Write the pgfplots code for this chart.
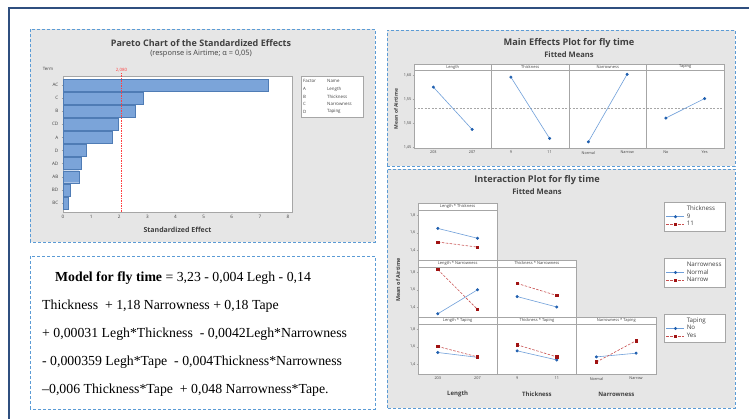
\documentclass[border=0pt]{standalone}
\usepackage{pgfplots}
\pgfplotsset{compat=1.18}
\usepackage{fontspec}
\setmainfont{Open Sans}
\newfontfamily\tnr{Liberation Serif}
\definecolor{frameblue}{HTML}{2F4F7F}
\definecolor{dashblue}{HTML}{5B9BD5}
\definecolor{panelgray}{HTML}{E6E6E6}
\definecolor{barfill}{HTML}{7BA4D9}
\definecolor{baredge}{HTML}{4F7CB5}
\definecolor{mblue}{HTML}{1F5FAF}
\definecolor{lblue}{HTML}{6F9FDA}
\definecolor{mred}{HTML}{A01212}
\definecolor{lred}{HTML}{C85050}
\definecolor{axgray}{HTML}{A6A6A6}
\definecolor{txtgray}{HTML}{404040}
\newcommand{\fs}[1]{\fontsize{#1}{#1}\selectfont}
\pgfplotsset{
  mini/.style={scale only axis, anchor=south west, axis line style={axgray, line width=0.5pt},
    tick style={axgray, line width=0.4pt}, major tick length=1.5pt, tick align=outside,
    tick label style={font=\fs{3.8}, text=txtgray}, clip=false, xtick pos=bottom, ytick pos=left,
    yticklabel style={inner sep=1pt}, xticklabel style={inner sep=1.5pt},
    axis background/.style={fill=white}},
  meff/.style={mini, width=77.5pt, height=78pt, xmin=-0.5, xmax=1.5, ymin=1.448, ymax=1.612,
    xtick={0,1}, ytick={1.45,1.5,1.55,1.6}, yticklabels={{1,45},{1,50},{1,55},{1,60}}},
  ieff/.style={mini, width=79.3pt, height=50pt, xmin=-0.5, xmax=1.5, ymin=1.29, ymax=1.86,
    xtick={0,1}, ytick={1.4,1.6,1.8}, yticklabels={{1,4},{1,6},{1,8}}},
  mline/.style={lblue, line width=0.6pt, mark=*, mark size=1.2pt, mark options={fill=mblue, draw=mblue}},
  bser/.style={lblue, line width=0.6pt, mark=*, mark size=1.2pt, mark options={fill=mblue, draw=mblue, solid}},
  rser/.style={lred, line width=0.6pt, dash pattern=on 2.5pt off 1.5pt, mark=square*, mark size=1.2pt, mark options={fill=mred, draw=mred, solid}},
  meanline/.style={gray!70, line width=0.4pt, dash pattern=on 2pt off 1.5pt, mark=none},
  ileg/.style={legend style={at={(3.102,#1)}, anchor=north west, draw=axgray, fill=white,
      font=\fs{6.2}, text=txtgray, row sep=-2.2pt, inner xsep=2pt, inner ysep=1.5pt, cells={anchor=west},
      text width=34pt},
    legend cell align=left,
    legend image code/.code={\draw[mark repeat=2, mark phase=2, ##1] plot coordinates {(0pt,0pt) (9pt,0pt) (18pt,0pt)};}},
}
\begin{document}
\begin{tikzpicture}
\path[use as bounding box] (0pt,0pt) rectangle (749pt,419pt);
% outer frame
\draw[frameblue, line width=2pt] (749pt,411pt) -- (9pt,411pt) -- (9pt,0pt);
% panels
\draw[dashblue, line width=0.8pt, dash pattern=on 3pt off 2pt, fill=panelgray] (30pt,177pt) rectangle (375pt,390pt);
\draw[dashblue, line width=0.8pt, dash pattern=on 3pt off 2pt, fill=white] (30pt,10pt) rectangle (375pt,163pt);
\draw[dashblue, line width=0.8pt, dash pattern=on 3pt off 2pt, fill=panelgray] (387pt,253pt) rectangle (735pt,389pt);
\draw[dashblue, line width=0.8pt, dash pattern=on 3pt off 2pt, fill=panelgray] (387pt,11pt) rectangle (735pt,250pt);

% ---------- Pareto ----------
\node[font=\fs{9}\bfseries, text=txtgray] at (201pt,376pt) {Pareto Chart of the Standardized Effects};
\node[font=\fs{7.4}, text=txtgray] at (201pt,365pt) {(response is Airtime; α = 0,05)};
\node[font=\fs{4.4}, text=txtgray] at (48pt,350pt) {Term};
\begin{axis}[mini, at={(63pt,207pt)}, width=229pt, height=136pt,
  xmin=0, xmax=8.14, ymin=-0.69, ymax=9.69,
  xtick={0,1,2,3,4,5,6,7,8}, xticklabels={0,1,2,3,4,5,6,7,8},
  ytick={0,1,2,3,4,5,6,7,8,9}, yticklabels={BC,BD,AB,AD,D,A,CD,B,C,AC},
  tick label style={font=\fs{4.6}}, yticklabel style={xshift=-2pt}]
\addplot[xbar, bar width=12pt, fill=barfill, draw=baredge, line width=0.4pt] coordinates
  {(7.31,9) (2.85,8) (2.58,7) (1.96,6) (1.76,5) (0.83,4) (0.65,3) (0.56,2) (0.27,1) (0.20,0)};
\addplot[red!75, line width=0.6pt, dash pattern=on 1.5pt off 1pt, mark=none] coordinates {(2.08,-0.69) (2.08,9.95)};
\node[font=\fs{4.4}, text=red!75, anchor=south, inner sep=0.5pt] at (axis cs:2.08,9.95) {2,080};
\end{axis}
\node[font=\fs{7}\bfseries, text=txtgray] at (177.5pt,189pt) {Standardized Effect};
\draw[axgray, fill=white, line width=0.4pt] (301pt,302pt) rectangle (363pt,343pt);
\begin{scope}[every node/.style={font=\fs{4.4}, text=txtgray, anchor=west, inner sep=0pt}]
\node at (303pt,337.7pt) {Factor}; \node at (327pt,337.7pt) {Name};
\node at (303pt,330pt) {A}; \node at (327pt,330pt) {Length};
\node at (303pt,322.5pt) {B}; \node at (327pt,322.5pt) {Thickness};
\node at (303pt,315pt) {C}; \node at (327pt,315pt) {Narrowness};
\node at (303pt,307.5pt) {D}; \node at (327pt,307.5pt) {Taping};
\end{scope}

% ---------- Model text ----------
\begin{scope}[every node/.style={font=\tnr\fs{13.8}, anchor=base west, inner sep=0pt}]
\node at (55pt,137pt) {\textbf{Model for fly time} = 3,23 - 0,004 Legh - 0,14};
\node at (42pt,109pt) {Thickness\ \ + 1,18 Narrowness + 0,18 Tape};
\node at (42pt,81pt) {+ 0,00031 Legh*Thickness\ \ - 0,0042Legh*Narrowness};
\node at (42pt,53pt) {- 0,000359 Legh*Tape\ \ - 0,004Thickness*Narrowness};
\node at (42pt,25pt) {–0,006 Thickness*Tape\ \ + 0,048 Narrowness*Tape.};
\end{scope}

% ---------- Main effects ----------
\node[font=\fs{9.2}\bfseries, text=txtgray] at (569pt,376pt) {Main Effects Plot for fly time};
\node[font=\fs{7.6}\bfseries, text=txtgray] at (569pt,364pt) {Fitted Means};
\node[font=\fs{5}\bfseries, text=txtgray, rotate=90] at (396pt,310pt) {Mean of Airtime};
\begin{axis}[meff, at={(414pt,271pt)}, xticklabels={203,207}]
\addplot[meanline] coordinates {(-0.5,1.532) (1.5,1.532)};
\addplot[mline] coordinates {(0,1.576) (1,1.487)};
\end{axis}
\begin{axis}[meff, at={(491.5pt,271pt)}, xticklabels={9,11}, ytick=\empty]
\addplot[meanline] coordinates {(-0.5,1.532) (1.5,1.532)};
\addplot[mline] coordinates {(0,1.597) (1,1.468)};
\end{axis}
\begin{axis}[meff, at={(569pt,271pt)}, xticklabels={Normal,Narrow}, ytick=\empty]
\addplot[meanline] coordinates {(-0.5,1.532) (1.5,1.532)};
\addplot[mline] coordinates {(0,1.461) (1,1.603)};
\end{axis}
\begin{axis}[meff, at={(646.5pt,271pt)}, xticklabels={No,Yes}, ytick=\empty]
\addplot[meanline] coordinates {(-0.5,1.532) (1.5,1.532)};
\addplot[mline] coordinates {(0,1.511) (1,1.552)};
\end{axis}
\begin{scope}[every node/.style={font=\fs{4}, text=txtgray}]
\draw[axgray, fill=white, line width=0.4pt] (414pt,349pt) rectangle (491.5pt,355pt);
\draw[axgray, fill=white, line width=0.4pt] (491.5pt,349pt) rectangle (569pt,355pt);
\draw[axgray, fill=white, line width=0.4pt] (569pt,349pt) rectangle (646.5pt,355pt);
\draw[axgray, fill=white, line width=0.4pt] (646.5pt,349pt) rectangle (724pt,355pt);
\node at (452.75pt,352pt) {Length};
\node at (530.25pt,352pt) {Thickness};
\node at (607.75pt,352pt) {Narrowness};
\node at (685.25pt,352pt) {Taping};
\end{scope}

% ---------- Interaction ----------
\node[font=\fs{9.2}\bfseries, text=txtgray] at (537pt,239pt) {Interaction Plot for fly time};
\node[font=\fs{7.6}\bfseries, text=txtgray] at (537pt,227pt) {Fitted Means};
\node[font=\fs{5.4}\bfseries, text=txtgray, rotate=90] at (398pt,139pt) {Mean of Airtime};
% row 1
\begin{axis}[ieff, at={(418pt,159pt)}, xtick=\empty, ileg=1.16]
\addlegendimage{empty legend}\addlegendentry{Thickness}
\addplot[bser] coordinates {(0,1.650) (1,1.538)}; \addlegendentry{9}
\addplot[rser] coordinates {(0,1.495) (1,1.437)}; \addlegendentry{11}
\end{axis}
% row 2
\begin{axis}[ieff, at={(418pt,102pt)}, xtick=\empty, ileg=1.18]
\addlegendimage{empty legend}\addlegendentry{Narrowness}
\addplot[bser] coordinates {(0,1.327) (1,1.600)}; \addlegendentry{Normal}
\addplot[rser] coordinates {(0,1.831) (1,1.377)}; \addlegendentry{Narrow}
\end{axis}
\begin{axis}[ieff, at={(497.3pt,102pt)}, xtick=\empty, ytick=\empty]
\addplot[bser] coordinates {(0,1.523) (1,1.404)};
\addplot[rser] coordinates {(0,1.673) (1,1.535)};
\end{axis}
% row 3
\begin{axis}[ieff, at={(418pt,45pt)}, xticklabels={203,207}, ileg=1.20]
\addlegendimage{empty legend}\addlegendentry{Taping}
\addplot[bser] coordinates {(0,1.535) (1,1.480)}; \addlegendentry{No}
\addplot[rser] coordinates {(0,1.604) (1,1.485)}; \addlegendentry{Yes}
\end{axis}
\begin{axis}[ieff, at={(497.3pt,45pt)}, xticklabels={9,11}, ytick=\empty]
\addplot[bser] coordinates {(0,1.554) (1,1.450)};
\addplot[rser] coordinates {(0,1.623) (1,1.485)};
\end{axis}
\begin{axis}[ieff, at={(576.6pt,45pt)}, xticklabels={Normal,Narrow}, ytick=\empty]
\addplot[bser] coordinates {(0,1.485) (1,1.527)};
\addplot[rser] coordinates {(0,1.427) (1,1.669)};
\end{axis}
\begin{scope}[every node/.style={font=\fs{4}, text=txtgray}]
\draw[axgray, fill=white, line width=0.4pt] (418pt,209pt) rectangle (497.3pt,216pt);
\draw[axgray, fill=white, line width=0.4pt] (418pt,152pt) rectangle (497.3pt,159pt);
\draw[axgray, fill=white, line width=0.4pt] (497.3pt,152pt) rectangle (576.6pt,159pt);
\draw[axgray, fill=white, line width=0.4pt] (418pt,95pt) rectangle (497.3pt,102pt);
\draw[axgray, fill=white, line width=0.4pt] (497.3pt,95pt) rectangle (576.6pt,102pt);
\draw[axgray, fill=white, line width=0.4pt] (576.6pt,95pt) rectangle (655.9pt,102pt);
\node at (457.65pt,212.5pt) {Length * Thickness};
\node at (457.65pt,155.5pt) {Length * Narrowness};
\node at (536.95pt,155.5pt) {Thickness * Narrowness};
\node at (457.65pt,98.5pt) {Length * Taping};
\node at (536.95pt,98.5pt) {Thickness * Taping};
\node at (616.25pt,98.5pt) {Narrowness * Taping};
\end{scope}
\begin{scope}[every node/.style={font=\fs{6}\bfseries, text=txtgray}]
\node at (457.65pt,25pt) {Length};
\node at (536.95pt,25pt) {Thickness};
\node at (616.25pt,25pt) {Narrowness};
\end{scope}
\end{tikzpicture}
\end{document}
